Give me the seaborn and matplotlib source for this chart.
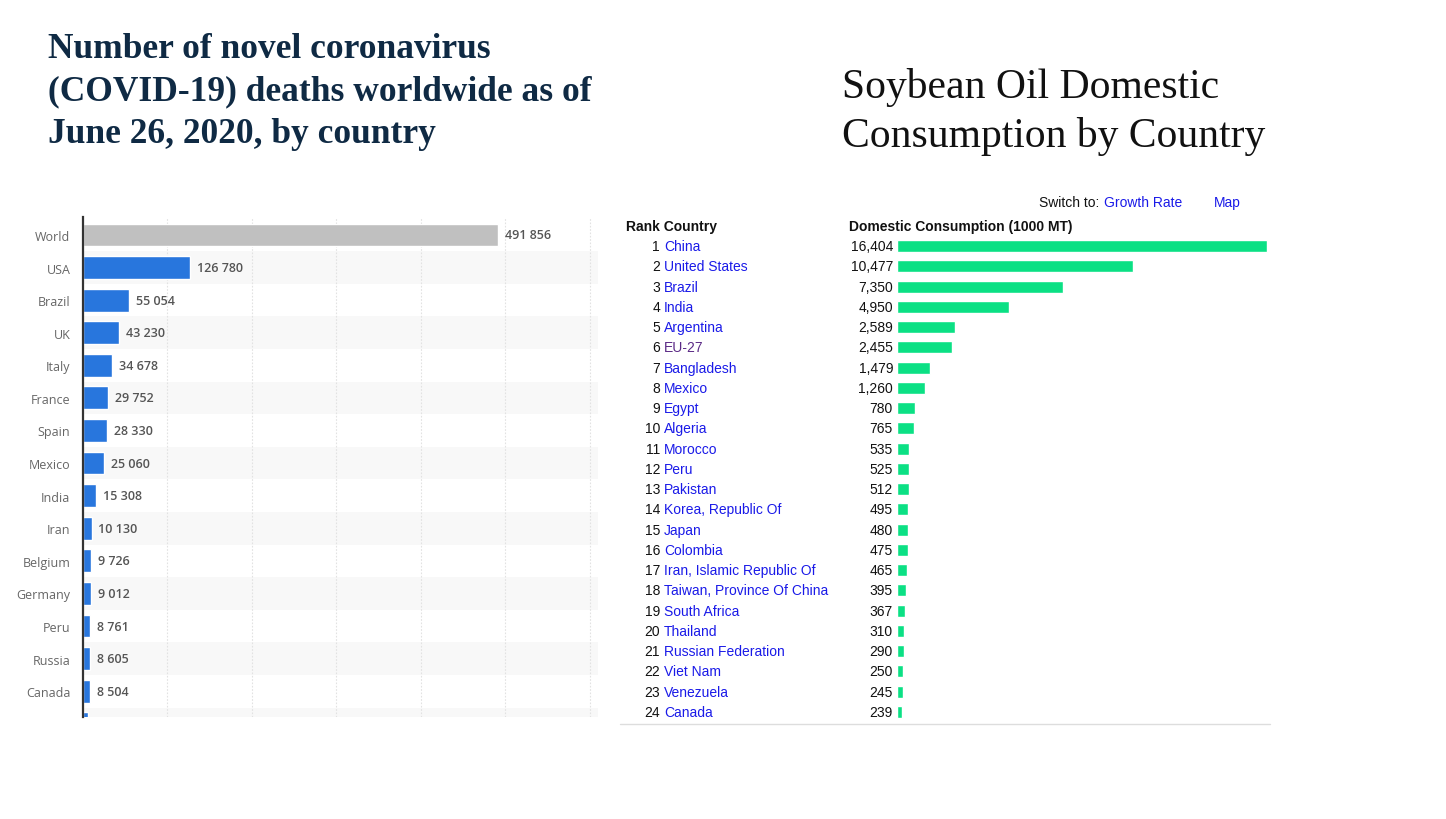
import matplotlib
matplotlib.use("Agg")
import matplotlib.pyplot as plt
import matplotlib.transforms as mtransforms
from matplotlib.lines import Line2D
import seaborn as sns
import pandas as pd

# left chart: COVID-19 deaths by country (June 26, 2020)
covid_countries = ["World", "USA", "Brazil", "UK", "Italy", "France", "Spain",
                   "Mexico", "India", "Iran", "Belgium", "Germany", "Peru",
                   "Russia", "Canada", "Netherlands"]
covid_deaths = [491856, 126780, 55054, 43230, 34678, 29752, 28330, 25060,
                15308, 10130, 9726, 9012, 8761, 8605, 8504, 6100]

# right chart: soybean oil domestic consumption (1000 MT)
soy_rank = list(range(1, 25))
soy_countries = ["China", "United States", "Brazil", "India", "Argentina",
                 "EU-27", "Bangladesh", "Mexico", "Egypt", "Algeria",
                 "Morocco", "Peru", "Pakistan", "Korea, Republic Of", "Japan",
                 "Colombia", "Iran, Islamic Republic Of",
                 "Taiwan, Province Of China", "South Africa", "Thailand",
                 "Russian Federation", "Viet Nam", "Venezuela", "Canada"]
soy_consumption = [16404, 10477, 7350, 4950, 2589, 2455, 1479, 1260, 780, 765,
                   535, 525, 512, 495, 480, 475, 465, 395, 367, 310, 290, 250,
                   245, 239]

W, H = 1446, 820


def px_box(left, top, right, bottom):
    return [left / W, 1 - bottom / H, (right - left) / W, (bottom - top) / H]


sns.set_theme(style="white")
plt.rcParams["font.family"] = ["Liberation Sans", "DejaVu Sans"]

fig = plt.figure(figsize=(W / 100, H / 100), dpi=100)
fig.patch.set_facecolor("white")

# ---------------- left chart ----------------
ax1 = fig.add_axes(px_box(83, 218, 598, 718))
df_covid = pd.DataFrame({"country": covid_countries, "deaths": covid_deaths})
palette = {c: ("#c0c0c0" if c == "World" else "#2876dd") for c in covid_countries}

for i in range(1, len(covid_countries), 2):
    ax1.axhspan(i - 0.5, i + 0.5, color="#f8f8f8", zorder=0, lw=0)

sns.barplot(data=df_covid, x="deaths", y="country", hue="country",
            palette=palette, legend=False, orient="h", width=0.7,
            saturation=1, ax=ax1, zorder=3)

ax1.set_xlim(0, 610000)
ax1.set_ylim(14.79, -0.55)
ax1.set_xticks([100000, 200000, 300000, 400000, 500000, 600000])
ax1.set_xticklabels([])
ax1.grid(axis="x", color="#e2e2e2", linestyle=(0, (1.5, 1.5)), lw=0.8, zorder=1)
ax1.set_axisbelow(True)
ax1.set_xlabel("")
ax1.set_ylabel("")
for side in ["top", "right", "bottom"]:
    ax1.spines[side].set_visible(False)
ax1.spines["left"].set_color("#333333")
ax1.spines["left"].set_linewidth(1.6)
ax1.spines["left"].set_zorder(5)
ax1.tick_params(axis="y", length=0, pad=9, labelsize=9, labelcolor="#666666")
ax1.tick_params(axis="x", length=0)
for lab in ax1.get_yticklabels():
    lab.set_fontfamily(["Open Sans", "DejaVu Sans"])

for i, v in enumerate(covid_deaths):
    ax1.annotate(f"{v:,}".replace(",", " "), xy=(v, i), xytext=(5, 0),
                 textcoords="offset points", va="center", ha="left",
                 fontsize=9, color="#555555", fontweight="semibold",
                 family=["Open Sans", "DejaVu Sans"], annotation_clip=True)

# ---------------- right chart ----------------
ax2 = fig.add_axes(px_box(897, 237, 1270, 723))
sns.barplot(x=soy_consumption, y=soy_countries, orient="h", color="#0be084",
            saturation=1, width=0.6, ax=ax2)
ax2.set_xlim(0, 16404 * 373 / 370)
ax2.set_ylim(23.5, -0.5)
ax2.set_xticks([])
ax2.set_yticks([])
ax2.set_xlabel("")
ax2.set_ylabel("")
for side in ["top", "right", "bottom", "left"]:
    ax2.spines[side].set_visible(False)
ax2.patch.set_alpha(0)

tr = mtransforms.blended_transform_factory(ax2.transAxes, ax2.transData)


def axx(px):
    return (px - 897) / 373


link_blue = "#1a1ae8"
for i, (r, c, v) in enumerate(zip(soy_rank, soy_countries, soy_consumption)):
    ax2.text(axx(660), i, str(r), transform=tr, ha="right", va="center",
             fontsize=10, color="#111111")
    ax2.text(axx(664), i, c, transform=tr, ha="left", va="center",
             fontsize=10, color="#5b2a86" if c == "EU-27" else link_blue)
    ax2.text(axx(893), i, f"{v:,}", transform=tr, ha="right", va="center",
             fontsize=10, color="#111111")

ax2.text(axx(626), -1, "Rank Country", transform=tr, ha="left", va="center",
         fontsize=10, fontweight="bold", color="#111111")
ax2.text(axx(849), -1, "Domestic Consumption (1000 MT)", transform=tr,
         ha="left", va="center", fontsize=10, fontweight="bold", color="#111111")
ax2.text(axx(1039), -2.2, "Switch to:", transform=tr, ha="left", va="center",
         fontsize=10, color="#111111")
ax2.text(axx(1104), -2.2, "Growth Rate", transform=tr, ha="left", va="center",
         fontsize=10, color=link_blue)
ax2.text(axx(1214), -2.2, "Map", transform=tr, ha="left", va="center",
         fontsize=10, color=link_blue)

fig.add_artist(Line2D([620 / W, 1270 / W], [1 - 725 / H, 1 - 725 / H],
                      color="#dddddd", lw=1))

# ---------------- titles ----------------
fig.text(48 / W, 1 - 92 / H,
         "Number of novel coronavirus\n(COVID-19) deaths worldwide as of\nJune 26, 2020, by country",
         ha="left", va="center", fontsize=25.5, fontweight="bold",
         color="#0f2a44", family=["Liberation Serif", "DejaVu Serif"],
         linespacing=1.39)
fig.text(842 / W, 1 - 112 / H,
         "Soybean Oil Domestic\nConsumption by Country",
         ha="left", va="center", fontsize=30, color="#111111",
         family=["Liberation Serif", "DejaVu Serif"], linespacing=1.35)

fig.savefig("out.png", dpi=100)
